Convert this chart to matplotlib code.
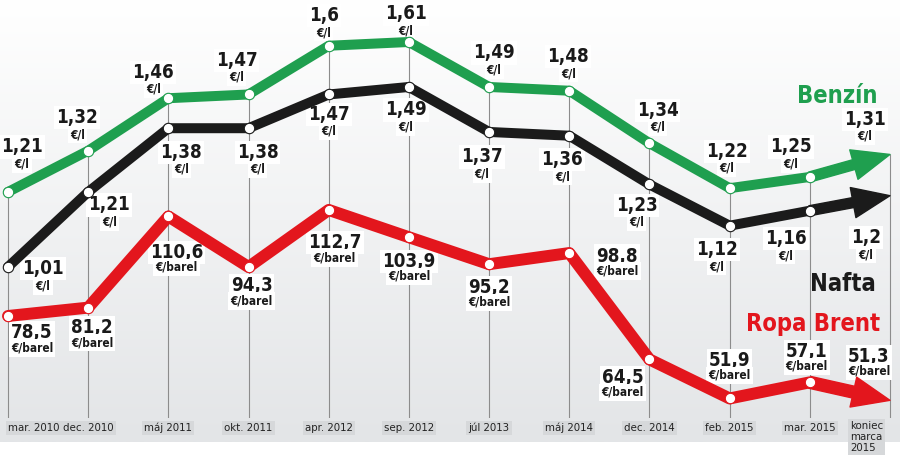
import numpy as np
import matplotlib.pyplot as plt

# data
months = ['mar. 2010', 'dec. 2010', 'máj 2011', 'okt. 2011', 'apr. 2012', 'sep. 2012',
          'júl 2013', 'máj 2014', 'dec. 2014', 'feb. 2015', 'mar. 2015', 'koniec\nmarca\n2015']
benzin = [1.21, 1.32, 1.46, 1.47, 1.6, 1.61, 1.49, 1.48, 1.34, 1.22, 1.25, 1.31]
nafta = [1.01, 1.21, 1.38, 1.38, 1.47, 1.49, 1.37, 1.36, 1.23, 1.12, 1.16, 1.2]
brent = [78.5, 81.2, 110.6, 94.3, 112.7, 103.9, 95.2, 98.8, 64.5, 51.9, 57.1, 51.3]

# label offsets in pixels (dx, dy up) from each point
off_benzin = [(14, 45), (-11, 33), (-15, 26), (-12, 34), (-5, 30), (-3, 28),
              (5, 34), (-1, 34), (8, 33), (-3, 37), (-19, 30), (-25, 35)]
off_nafta = [(35, -2), (21, -13), (13, -24), (9, -24), (0, -20), (-3, -23),
             (-7, -25), (-7, -24), (-13, -21), (-13, -24), (-24, -28), (-24, -42)]
off_brent = [(24, -17), (4, -20), (8, -36), (3, -19), (6, -33), (0, -24),
             (0, -23), (48, -3), (-27, -18), (0, 38), (-3, 31), (-21, 44)]

GREEN = '#1f9f4f'
BLACK = '#1b1b1b'
RED = '#e3161d'

plt.rcParams['font.family'] = ['DejaVu Sans']
plt.rcParams['font.stretch'] = 'condensed'

fig = plt.figure(figsize=(9, 4.65), dpi=100)

# background gradient
bg = fig.add_axes([0, 23 / 465, 1, 442 / 465], zorder=-5)
grad = np.linspace(0, 1, 256).reshape(-1, 1)
bg.imshow(grad, aspect='auto', cmap=plt.matplotlib.colors.LinearSegmentedColormap.from_list(
    'g', ['#ffffff', '#e3e5e7']), extent=[0, 1, 0, 1], origin='upper')
bg.axis('off')

ax = fig.add_axes([0, 47 / 465, 1, 418 / 465])
ax.patch.set_visible(False)
x = np.arange(len(months))
ax.set_xlim(-0.1, 11.125)
ax.set_ylim(0.607, 1.722)
ax2 = ax.twinx()
ax2.set_ylim(45.6, 180.4)

for a in (ax, ax2):
    for s in a.spines.values():
        s.set_visible(False)
    a.tick_params(left=False, right=False, labelleft=False, labelright=False)

# grid lines from the top series down
ax.vlines(x, 0.607, benzin, color='#8c8c8c', lw=0.8, zorder=1)

tick_box = dict(facecolor='#d6d8da', edgecolor='none', pad=1.5)
ax.set_xticks(x[:-1])
ax.set_xticklabels(months[:-1], fontsize=8.2, fontstretch='condensed', color='#222222')
ax.tick_params(axis='x', length=0, pad=9.5)
for lab in ax.get_xticklabels():
    lab.set_bbox(tick_box)
    lab.set_verticalalignment('baseline')
ax.get_xticklabels()[0].set_horizontalalignment('left')
# last category label, left-aligned under the arrow tip
ax.annotate(months[-1], (x[-1], 0), xycoords=('data', 'axes fraction'), xytext=(-40, -3),
            textcoords='offset pixels', ha='left', va='top', fontsize=8.2, fontstretch='condensed',
            color='#222222', linespacing=1.1, bbox=tick_box)


def series(a, vals, color, lw, offs, unit, drop):
    a.plot(x[:-1], vals[:-1], color=color, lw=lw, solid_capstyle='round',
           solid_joinstyle='round', zorder=3)
    a.annotate('', xy=(x[-1], vals[-1]), xytext=(x[-2], vals[-2]),
               arrowprops=dict(arrowstyle='simple,head_length=1.35,head_width=1.1,tail_width=%.2f' % (lw / 20),
                               color=color, shrinkA=0, shrinkB=0, mutation_scale=20), zorder=3)
    a.plot(x[:-1], vals[:-1], 'o', ms=7.5, mfc='white', mec=color, mew=0.8, zorder=4)
    for xi, v, (dx, dy) in zip(x, vals, offs):
        t = ('%g' % v).replace('.', ',')
        a.annotate(t, (xi, v), xytext=(dx, dy), textcoords='offset pixels', ha='center', va='center',
                   fontsize=13.5, fontweight='bold', fontstretch='condensed', color='#1a1a1a', zorder=2,
                   bbox=dict(facecolor='white', edgecolor='none', pad=1.5))
        a.annotate(unit, (xi, v), xytext=(dx, dy - drop), textcoords='offset pixels', ha='center',
                   va='center', fontsize=8.5, fontweight='bold', fontstretch='condensed',
                   color='#1a1a1a', zorder=2, bbox=dict(facecolor='white', edgecolor='none', pad=1.5))


series(ax, benzin, GREEN, 7.2, off_benzin, '€/l', 17)
series(ax, nafta, BLACK, 7.2, off_nafta, '€/l', 17)
series(ax2, brent, RED, 8.6, off_brent, '€/barel', 15)

ax.annotate('Benzín', (x[-1], benzin[-1]), xytext=(-53, 58), textcoords='offset pixels',
            ha='center', va='center', fontsize=17, fontweight='bold', fontstretch='condensed', color=GREEN)
ax.annotate('Nafta', (x[-1], nafta[-1]), xytext=(-47, -88), textcoords='offset pixels',
            ha='center', va='center', fontsize=17, fontweight='bold', fontstretch='condensed', color=BLACK)
ax2.annotate('Ropa Brent', (x[-1], brent[-1]), xytext=(-77, 76), textcoords='offset pixels',
             ha='center', va='center', fontsize=17, fontweight='bold', fontstretch='condensed', color=RED)

fig.savefig('out.png', dpi=100)
